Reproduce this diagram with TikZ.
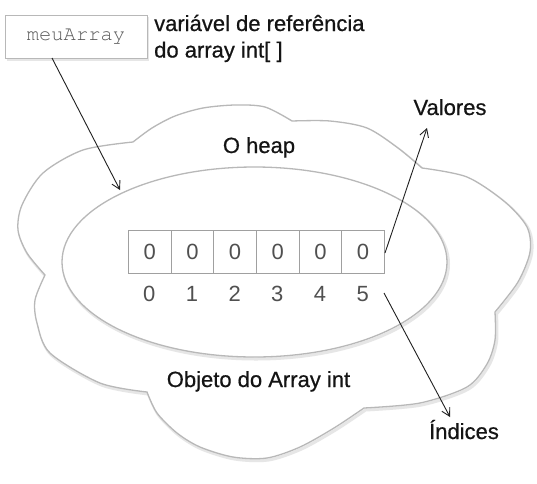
\documentclass[tikz,border=0pt]{standalone}
\usepackage[T1]{fontenc}
\usepackage{fontspec}
\setmainfont{Liberation Sans}
\newfontface\lblface{Liberation Sans}[FakeBold=0.6]
\usetikzlibrary{arrows.meta}
\definecolor{outl}{HTML}{B8B8B8}
\definecolor{shad}{HTML}{E6E6E6}
\definecolor{cellc}{HTML}{A0A0A0}
\definecolor{digc}{HTML}{505050}
\definecolor{monoc}{HTML}{5A5A5A}
\definecolor{txtc}{HTML}{141414}
\definecolor{arrc}{HTML}{202020}
\tikzset{
  lbl/.style={font=\lblface\fontsize{22}{26.5}\selectfont, text=txtc, inner sep=0pt},
  dig/.style={font=\fontsize{22}{26}\selectfont, text=digc, inner sep=0pt},
  cellbox/.style={draw=cellc, line width=0.8pt, minimum width=42.67pt, minimum height=43pt, inner sep=0pt, anchor=north west},
  conn/.style={draw=arrc, line width=0.9pt, -{Straight Barb[length=8pt,width=9pt]}},
  shadowline/.style={draw=shad, line width=3pt},
  outline/.style={draw=outl, line width=1.3pt, fill=white}
}
\def\cloudpath{
  plot[smooth] coordinates {(133,142) (152,128) (175,116) (203,108) (235,105) (265,107) (292,121)}
  -- plot[smooth] coordinates {(292,121) (330,121) (367,128) (398,148) (422,168)}
  -- plot[smooth] coordinates {(422,168) (467,177) (505,202) (527,227) (530,252) (518,282) (495,312)}
  -- plot[smooth] coordinates {(495,312) (495,340) (487,364) (467,387) (420,403) (364,408)}
  -- plot[smooth] coordinates {(364,408) (334,428) (300,447) (267,458) (233,457) (200,447) (177,433) (157,413) (147,392)}
  -- plot[smooth] coordinates {(147,392) (100,383) (50,353) (37,323) (35,300) (45,275)}
  -- plot[smooth] coordinates {(45,275) (27,253) (18,230) (22,205) (43,173) (83,150) (133,142)}
  -- cycle}
\begin{document}
\begin{tikzpicture}[x=1pt,y=-1pt]
\useasboundingbox[fill=white] (0,0) rectangle (537,483);
% cloud (heap)
\path[shadowline, shift={(1.5,2)}] \cloudpath;
\path[outline] \cloudpath;
% ellipse (array object)
\path[shadowline, shift={(1.5,2)}] (254.5,262) ellipse [x radius=192.5, y radius=95];
\path[outline] (254.5,262) ellipse [x radius=192.5, y radius=95];
% reference variable box
\fill[shad] (7,17) rectangle (149,60.5);
\node[draw=outl, line width=1pt, fill=white, minimum width=142pt, minimum height=43pt, inner sep=0pt,
      font=\fontencoding{T1}\fontfamily{pcr}\fontsize{20.5}{24}\selectfont, text=monoc] (ref) at (76,36.5) {meuArray};
\node[lbl, anchor=base west] (reflbl) at (154,31) {variável de referência};
\node[lbl, anchor=base west] (reflbl2) at (154,57.5) {do array int[ ]};
% labels
\node[lbl, anchor=base] (heap) at (259,153) {O heap};
\node[lbl, anchor=base] (obj) at (258.5,387) {Objeto do Array int};
\node[lbl, anchor=base] (val) at (450,115) {Valores};
\node[lbl, anchor=base] (ind) at (464,439) {Índices};
% array cells
\foreach \i in {0,...,5} {
  \node[cellbox] (c\i) at ({128+42.67*\i},230) {};
  \node[dig] (v\i) at (c\i.center) {0};
  \node[dig, anchor=base] (n\i) at ({128+42.67*\i+21.33},301) {\i};
}
% connectors
\coordinate (refstart) at (52,58);
\coordinate (ellhit) at (120,190);
\coordinate (valstart) at (385,253);
\coordinate (valend) at (427,128);
\coordinate (indstart) at (384,293);
\coordinate (indend) at (450,417);
\draw[conn] (refstart) -- (ellhit);
\draw[conn] (valstart) -- (valend);
\draw[conn] (indstart) -- (indend);
\end{tikzpicture}
\end{document}
